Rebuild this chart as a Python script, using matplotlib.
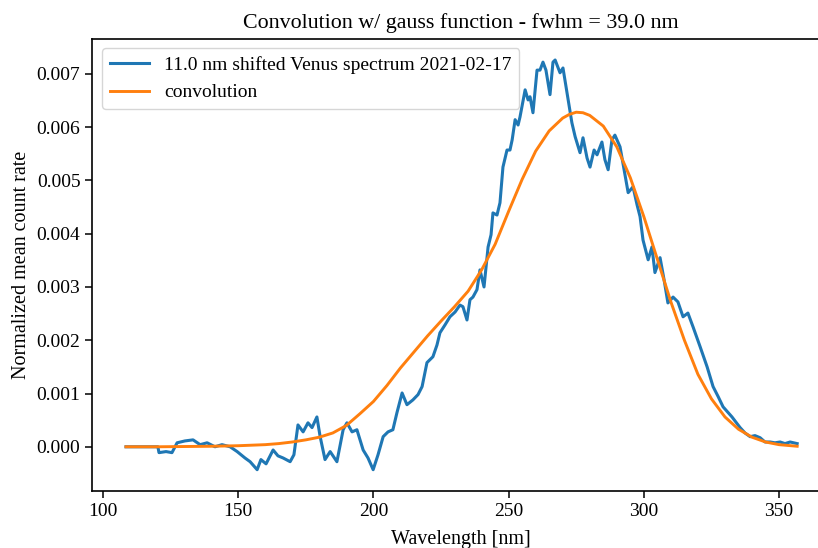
import numpy as np
import matplotlib
matplotlib.use("Agg")
from matplotlib import pyplot as plt

# shifted Venus spectrum (wavelength in nm, normalized mean count rate)
spec_wl = [108.5, 120.3, 120.7, 123.3, 125.5, 127.4, 130.3, 133.3, 135.9, 138.5,
           141.4, 144.0, 147.0, 149.6, 152.5, 154.4, 157.0, 158.4, 160.3, 162.9,
           164.7, 166.6, 169.2, 170.6, 172.1, 174.0, 175.8, 177.3, 179.1, 180.3,
           182.1, 184.0, 186.5, 188.8, 190.2, 192.1, 193.9, 196.2, 198.0, 199.9,
           201.7, 203.6, 205.4, 207.2, 208.7, 210.6, 212.4, 214.6, 216.5, 218.0,
           219.8, 222.0, 223.5, 224.6, 226.5, 228.3, 230.2, 232.0, 233.1, 234.6,
           235.7, 236.8, 238.3, 239.4, 240.9, 242.4, 243.5, 244.2, 245.7, 246.8,
           247.9, 249.4, 250.5, 251.3, 252.4, 253.5, 254.2, 256.1, 257.2, 257.9,
           259.0, 260.5, 261.6, 262.7, 263.8, 265.3, 266.4, 267.2, 268.3, 269.0,
           270.1, 271.6, 273.4, 274.6, 276.4, 277.5, 279.0, 280.1, 281.6, 282.7,
           284.5, 285.6, 286.8, 288.2, 289.3, 291.2, 292.7, 294.2, 296.0, 297.5,
           298.6, 299.7, 301.6, 303.0, 304.1, 306.0, 307.5, 308.9, 310.8, 312.6,
           314.5, 316.3, 318.2, 320.8, 323.4, 325.6, 327.5, 329.3, 332.6, 335.6,
           337.4, 339.3, 341.1, 343.0, 344.8, 346.7, 348.5, 350.4, 352.2, 354.1,
           356.7]
spec_val = [0.00, 0.00, -0.11, -0.09, -0.11, 0.075, 0.11, 0.13, 0.04, 0.075,
            0.00, 0.04, 0.00, -0.09, -0.21, -0.28, -0.43, -0.24, -0.32, -0.06,
            -0.17, -0.21, -0.28, -0.15, 0.41, 0.28, 0.45, 0.36, 0.56, 0.19,
            -0.24, -0.09, -0.28, 0.32, 0.45, 0.28, 0.32, -0.06, -0.21, -0.43,
            -0.15, 0.19, 0.28, 0.32, 0.64, 1.01, 0.79, 0.88, 0.98, 1.13,
            1.58, 1.69, 1.91, 2.14, 2.29, 2.44, 2.53, 2.66, 2.63, 2.38,
            2.76, 2.81, 2.95, 3.32, 3.00, 3.75, 3.98, 4.39, 4.35, 4.58,
            5.25, 5.57, 5.57, 5.76, 6.14, 6.04, 6.19, 6.70, 6.51, 6.57,
            6.27, 7.07, 7.07, 7.22, 7.07, 6.61, 7.22, 7.26, 7.11, 7.02,
            7.11, 6.64, 6.08, 5.82, 5.52, 5.80, 5.42, 5.25, 5.57, 5.48,
            5.72, 5.39, 5.20, 5.76, 5.85, 5.63, 5.20, 4.77, 4.88, 4.54,
            4.32, 3.88, 3.51, 3.75, 3.27, 3.55, 3.13, 2.70, 2.81, 2.72,
            2.44, 2.51, 2.25, 1.88, 1.50, 1.13, 0.94, 0.75, 0.56, 0.36,
            0.26, 0.19, 0.21, 0.17, 0.09, 0.09, 0.075, 0.09, 0.06, 0.09,
            0.06]

# gaussian convolution (fwhm = 39 nm)
conv_wl = [108.5, 120, 130, 140, 150, 160, 165, 170, 175, 180, 185, 190, 195,
           200, 205, 210, 215, 220, 225, 230, 235, 240, 245, 250, 255, 260,
           265, 270, 272.5, 275, 277.5, 280, 285, 290, 295, 300, 305, 310, 315,
           320, 325, 330, 335, 340, 345, 350, 356.7]
conv_val = [0.0, 0.0, 0.005, 0.01, 0.02, 0.04, 0.06, 0.09, 0.13, 0.18, 0.26,
            0.40, 0.62, 0.85, 1.15, 1.48, 1.78, 2.08, 2.36, 2.63, 2.92, 3.32,
            3.80, 4.42, 5.02, 5.55, 5.93, 6.17, 6.24, 6.28, 6.27, 6.22, 6.02,
            5.63, 5.05, 4.32, 3.52, 2.72, 2.00, 1.36, 0.90, 0.56, 0.33, 0.18,
            0.09, 0.04, 0.01]

plt.rcParams['font.family'] = ['Liberation Serif', 'DejaVu Serif']

fig = plt.figure(figsize=(8.18, 5.48), dpi=100)
ax = fig.add_axes([0.1127, 0.104, 0.9015, 0.8254])

ax.plot(spec_wl, np.array(spec_val) * 1e-3, color='#1f77b4', lw=2.2,
        label='11.0 nm shifted Venus spectrum 2021-02-17')
ax.plot(conv_wl, np.array(conv_val) * 1e-3, color='#ff7f0e', lw=2.1,
        label='convolution')

ax.set_xlim(96.0, 368.7)
ax.set_ylim(-0.00083, 0.00766)
ax.set_xticks([100, 150, 200, 250, 300, 350])
ax.set_yticks(np.arange(0, 0.0071, 0.001))
ax.yaxis.set_major_formatter(matplotlib.ticker.FormatStrFormatter('%.3f'))
ax.tick_params(labelsize=14, length=5, width=1.1)
for s in ax.spines.values():
    s.set_linewidth(1.2)
ax.spines['right'].set_visible(False)

ax.set_xlabel('Wavelength [nm]', fontsize=14.5, labelpad=7)
ax.set_ylabel('Normalized mean count rate', fontsize=14.5)
ax.set_title('Convolution w/ gauss function - fwhm = 39.0 nm', fontsize=15.8, pad=8)
ax.legend(loc='upper left', fontsize=14)

fig.savefig('out.png', dpi=100)
